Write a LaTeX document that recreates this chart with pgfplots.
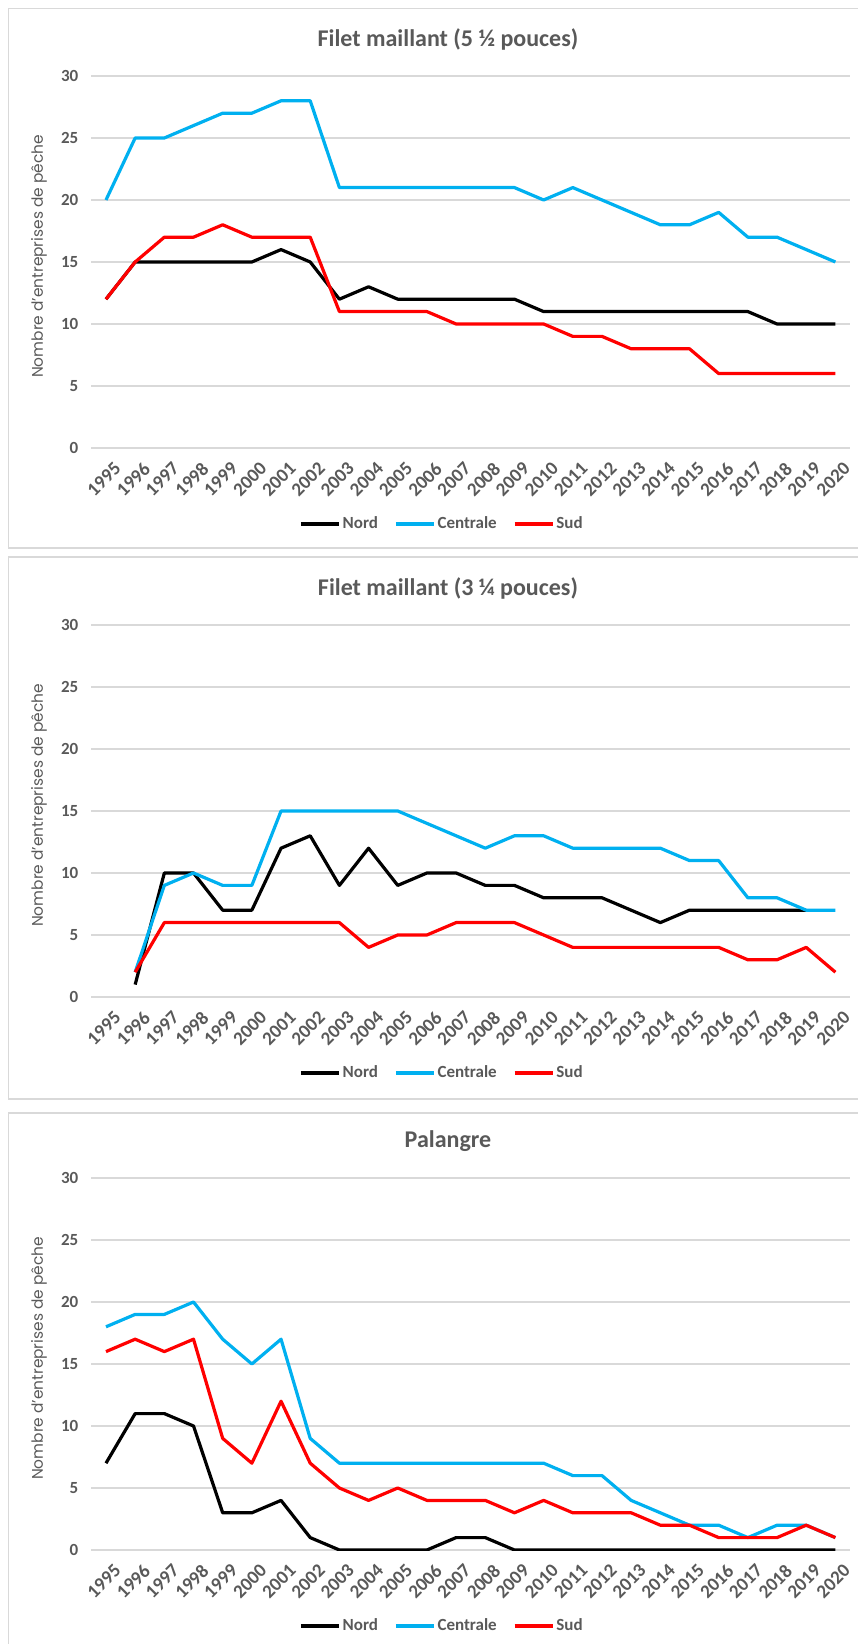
\documentclass[border=0pt]{standalone}
\usepackage{fontspec}
\setmainfont{Carlito}
\newfontfamily\ylabfont{Poppins}
\usepackage{pgfplots}
\usepackage{pgfplotstable}
\pgfplotsset{compat=1.18}
\definecolor{cen}{HTML}{00B0F0}
\definecolor{txt}{HTML}{595959}
\definecolor{grd}{HTML}{D9D9D9}

\pgfplotstableread{
year N C S
1995 12 20 12
1996 15 25 15
1997 15 25 17
1998 15 26 17
1999 15 27 18
2000 15 27 17
2001 16 28 17
2002 15 28 17
2003 12 21 11
2004 13 21 11
2005 12 21 11
2006 12 21 11
2007 12 21 10
2008 12 21 10
2009 12 21 10
2010 11 20 10
2011 11 21 9
2012 11 20 9
2013 11 19 8
2014 11 18 8
2015 11 18 8
2016 11 19 6
2017 11 17 6
2018 10 17 6
2019 10 16 6
2020 10 15 6
}\tabA

\pgfplotstableread{
year N C S
1996 1 2 2
1997 10 9 6
1998 10 10 6
1999 7 9 6
2000 7 9 6
2001 12 15 6
2002 13 15 6
2003 9 15 6
2004 12 15 4
2005 9 15 5
2006 10 14 5
2007 10 13 6
2008 9 12 6
2009 9 13 6
2010 8 13 5
2011 8 12 4
2012 8 12 4
2013 7 12 4
2014 6 12 4
2015 7 11 4
2016 7 11 4
2017 7 8 3
2018 7 8 3
2019 7 7 4
2020 nan 7 2
}\tabB

\pgfplotstableread{
year N C S
1995 7 18 16
1996 11 19 17
1997 11 19 16
1998 10 20 17
1999 3 17 9
2000 3 15 7
2001 4 17 12
2002 1 9 7
2003 0 7 5
2004 0 7 4
2005 0 7 5
2006 0 7 4
2007 1 7 4
2008 1 7 4
2009 0 7 3
2010 0 7 4
2011 0 6 3
2012 0 6 3
2013 0 4 3
2014 0 3 2
2015 0 2 2
2016 0 2 1
2017 0 1 1
2018 0 2 1
2019 0 2 2
2020 0 1 1
}\tabC

\pgfplotsset{panel/.style={
  scale only axis, width=379.3pt, height=186pt,
  anchor=south west,
  xmin=1994.5, xmax=2020.5, ymin=0, ymax=30,
  xtick={1995,...,2020}, ytick={0,5,...,30},
  /pgf/number format/assume math mode=true,
  /pgf/number format/1000 sep={},
  axis line style={draw=none}, tick style={draw=none},
  ymajorgrids, grid style={grd, line width=0.9pt},
  x tick label style={rotate=45, anchor=north east, font=\bfseries\fontsize{9.5}{11}\selectfont, text=txt, inner sep=1pt, yshift=-6pt, xshift=-1pt},
  y tick label style={font=\bfseries\fontsize{8.5}{10}\selectfont, text=txt, xshift=-3pt},
  ylabel={\ylabfont Nombre d’entreprises de pêche},
  ylabel style={at={(axis description cs:-0.069,0.515)}, anchor=center, text=txt, font=\fontsize{7.7}{9}\selectfont},
  title style={at={(axis description cs:0.47,1)}, anchor=center, yshift=12.5pt, font=\bfseries\fontsize{12}{14}\selectfont, text=txt},
  legend style={draw=none, at={(axis description cs:0.462,-0.205)}, anchor=center, legend columns=3, font=\bfseries\fontsize{8.5}{10}\selectfont, text=txt, inner sep=1pt,
    /tikz/every even column/.append style={column sep=7pt},
    /tikz/every odd column/.append style={column sep=0pt},
    nodes={inner sep=1pt}},
  legend image code/.code={\draw[#1, line width=1.8pt] (0pt,0pt) -- (19pt,0pt);},
  every axis plot/.append style={line width=1.6pt, mark=none, line join=round},
}}

\begin{document}
\begin{tikzpicture}
\path[use as bounding box] (0,0) rectangle (428.5pt,822pt);
\draw[grd, line width=0.8pt] (4.2pt,548pt) rectangle (432pt,817.8pt);
\draw[grd, line width=0.8pt] (4.2pt,272.5pt) rectangle (432pt,543.5pt);
\draw[grd, line width=0.8pt] (4.2pt,-5pt) rectangle (432pt,265.5pt);

\begin{axis}[panel, at={(45.7pt,598pt)}, title={Filet maillant (5 ½ pouces)}]
\addplot[black] table[x=year,y=N]{\tabA};
\addplot[cen] table[x=year,y=C]{\tabA};
\addplot[red] table[x=year,y=S]{\tabA};
\legend{Nord,Centrale,Sud}
\end{axis}

\begin{axis}[panel, at={(45.7pt,323.5pt)}, title={Filet maillant (3 ¼ pouces)}]
\addplot[black] table[x=year,y=N]{\tabB};
\addplot[cen] table[x=year,y=C]{\tabB};
\addplot[red] table[x=year,y=S]{\tabB};
\legend{Nord,Centrale,Sud}
\end{axis}

\begin{axis}[panel, at={(45.7pt,47pt)}, title={Palangre}]
\addplot[black] table[x=year,y=N]{\tabC};
\addplot[cen] table[x=year,y=C]{\tabC};
\addplot[red] table[x=year,y=S]{\tabC};
\legend{Nord,Centrale,Sud}
\end{axis}
\end{tikzpicture}
\end{document}
